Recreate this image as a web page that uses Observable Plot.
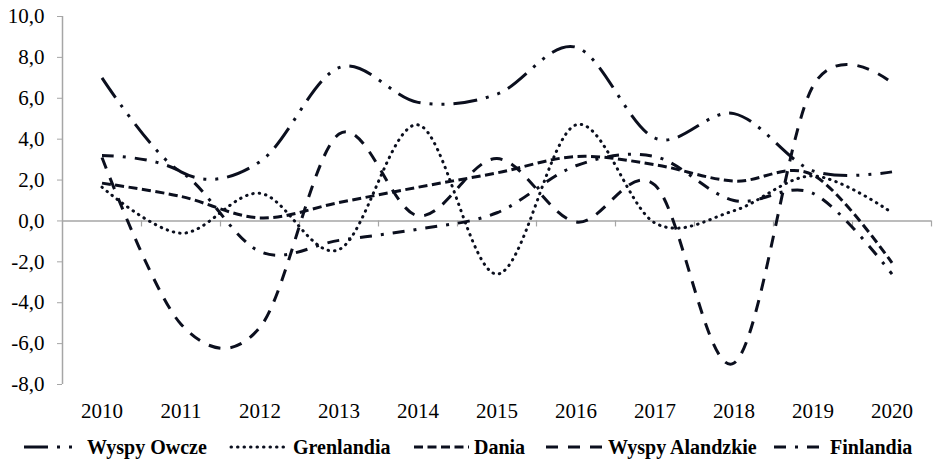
<!DOCTYPE html>
<html>
<head>
<meta charset="utf-8">
<script src="https://cdn.jsdelivr.net/npm/d3@7"></script>
<script src="https://cdn.jsdelivr.net/npm/@observablehq/plot@0.6"></script>
<style>
  html, body { margin: 0; padding: 0; background: #fff; }
  #wrap { position: relative; width: 935px; height: 464px; overflow: hidden; }
</style>
</head>
<body>
<div id="wrap"></div>
<script>
// ---- data ----
const years = [2010, 2011, 2012, 2013, 2014, 2015, 2016, 2017, 2018, 2019, 2020];
const wyspyOwcze     = [7.0, 2.4, 2.9, 7.5, 5.8, 6.2, 8.5, 4.05, 5.25, 2.45, 2.4];
const grenlandia     = [1.65, -0.6, 1.35, -1.4, 4.7, -2.6, 4.7, -0.1, 0.5, 2.2, 0.4];
const dania          = [1.85, 1.2, 0.15, 0.9, 1.65, 2.35, 3.15, 2.75, 1.95, 2.25, -2.05];
const wyspyAlandzkie = [3.1, -5.05, -5.2, 4.25, 0.25, 3.05, -0.05, 1.75, -6.95, 6.6, 6.75];
const finlandia      = [3.2, 2.4, -1.5, -0.95, -0.4, 0.4, 2.7, 3.15, 1.0, 1.35, -2.6];
const seriesNames = ["Wyspy Owcze", "Grenlandia", "Dania", "Wyspy Alandzkie", "Finlandia"];
const yTicks = [-8, -6, -4, -2, 0, 2, 4, 6, 8, 10];

// ---- styles ----
const ink = "#0b0f1e";
const gray = "#a6a6a6";
const font = "'Liberation Serif', 'Times New Roman', serif";
const styles = {
  "Wyspy Owcze":     {dash: "24 9 3 9 3 9", cap: "butt"},
  "Grenlandia":      {dash: "0.5 6", cap: "round"},
  "Dania":           {dash: "9 4.5", cap: "butt"},
  "Wyspy Alandzkie": {dash: "12 10", cap: "butt"},
  "Finlandia":       {dash: "12 9 3 9", cap: "butt"}
};
const valuesByName = {
  "Wyspy Owcze": wyspyOwcze, "Grenlandia": grenlandia, "Dania": dania,
  "Wyspy Alandzkie": wyspyAlandzkie, "Finlandia": finlandia
};
const tables = seriesNames.map(name => ({
  name,
  rows: years.map((year, i) => ({year, value: valuesByName[name][i]}))
}));
const boundaries = years.map(y => y + 0.5);
const fmt = v => v.toFixed(1).replace(".", ",");

const chart = Plot.plot({
  width: 935,
  height: 425,
  marginLeft: 62,
  marginRight: 4,
  marginTop: 16,
  marginBottom: 41,
  style: {fontFamily: font, fontSize: "21px", color: "#000", background: "#fff", overflow: "visible"},
  x: {type: "linear", domain: [2009.5, 2020.5], axis: null, label: null},
  y: {type: "linear", domain: [-8, 10], axis: null, label: null},
  marks: [
    Plot.ruleY([0], {stroke: gray, strokeWidth: 1.5}),
    Plot.ruleX(boundaries, {y1: 0, y2: 0, insetBottom: -6, stroke: gray, strokeWidth: 1.2}),
    Plot.ruleX([2009.5], {stroke: gray, strokeWidth: 1.5}),
    Plot.axisY({ticks: yTicks, tickFormat: fmt, tickSize: 5, tickPadding: 13, stroke: gray, fill: "#000", fontSize: 21, label: null}),
    Plot.axisX({ticks: years, tickFormat: d => String(d), tickSize: 0, tickPadding: 19, fill: "#000", fontSize: 21, label: null}),
    ...tables.map(t => Plot.line(t.rows, {
      x: "year", y: "value", curve: "cardinal",
      stroke: ink, strokeWidth: 3,
      strokeDasharray: styles[t.name].dash,
      strokeLinecap: styles[t.name].cap
    }))
  ]
});
document.getElementById("wrap").appendChild(chart);

// ---- legend ----
const legendPos = [
  {x: 24, x2: 78, tx: 87}, {x: 231, x2: 285, tx: 293}, {x: 414, x2: 469, tx: 474},
  {x: 546, x2: 604, tx: 608}, {x: 774, x2: 822, tx: 830}
];
const lg = d3.create("svg").attr("width", 935).attr("height", 39)
  .style("position", "absolute").style("left", "0px").style("top", "425px");
seriesNames.forEach((name, i) => {
  const p = legendPos[i];
  lg.append("line").attr("x1", p.x).attr("x2", p.x2).attr("y1", 22).attr("y2", 22)
    .attr("stroke", ink).attr("stroke-width", 3)
    .attr("stroke-dasharray", styles[name].dash).attr("stroke-linecap", styles[name].cap);
  lg.append("text").attr("x", p.tx).attr("y", 29).text(name)
    .attr("font-family", font).attr("font-weight", "bold").attr("font-size", 20).attr("fill", "#000");
});
document.getElementById("wrap").appendChild(lg.node());
</script>
</body>
</html>
